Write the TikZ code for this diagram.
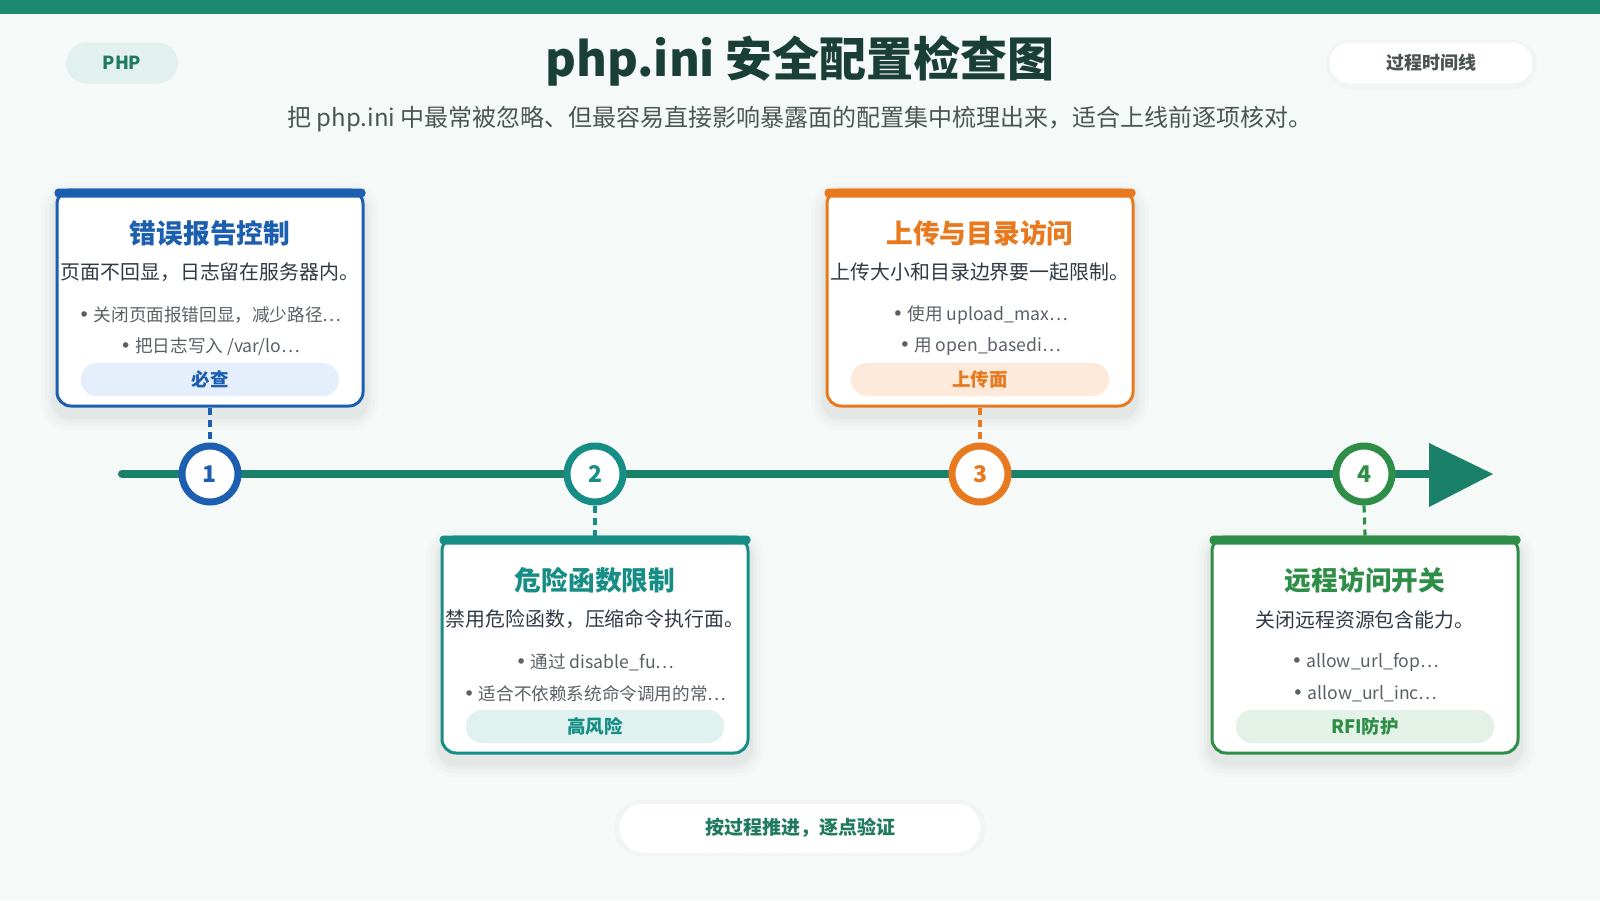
\documentclass[tikz,border=0pt]{standalone}
\usepackage{fontspec}
\setmainfont{Noto Sans CJK SC}
\newfontfamily\dejavu{DejaVu Sans}
\usetikzlibrary{calc}
\definecolor{bgc}{HTML}{F5F9F7}
\definecolor{topbarc}{HTML}{1B8A6E}
\definecolor{titlec}{HTML}{1A3F36}
\definecolor{subc}{HTML}{4B5753}
\definecolor{phpfill}{HTML}{E2F1EE}
\definecolor{phptext}{HTML}{1F7A5E}
\definecolor{linec}{HTML}{1B8068}
\definecolor{cblue}{HTML}{1C5FB0}
\definecolor{cteal}{HTML}{168E86}
\definecolor{corange}{HTML}{E8791E}
\definecolor{cgreen}{HTML}{2E8E48}
\definecolor{fblue}{HTML}{E5EFFB}
\definecolor{fteal}{HTML}{DFF2EF}
\definecolor{forange}{HTML}{FDEADB}
\definecolor{fgreen}{HTML}{E4F1E6}
\definecolor{descc}{HTML}{2F3A45}
\definecolor{bulc}{HTML}{5A6068}
\definecolor{badgec}{HTML}{4A5550}
\newcommand\fs[1]{\fontsize{#1}{#1}\selectfont}
\newcommand\bul{{\dejavu\fontsize{19}{19}\selectfont •}\ }
\tikzset{
  cardbox/.style={rectangle, rounded corners=14, minimum width=306, minimum height=216, line width=3, fill=white, inner sep=0},
  cardtitle/.style={font=\fs{26.7}\bfseries, inner sep=0},
  carddesc/.style={font=\fs{19.9}, text=descc, inner sep=0},
  cardbul/.style={font=\fs{17.6}, text=bulc, inner sep=0},
  tagpill/.style={rectangle, rounded corners=16, minimum width=258, minimum height=33, inner sep=0, font=\fs{18.5}\bfseries},
  circ/.style={circle, line width=7, minimum size=56, fill=white, inner sep=0, font=\fs{23}\bfseries},
  dashc/.style={line width=3.2, dash pattern=on 7 off 5},
  badge/.style={rectangle, rounded corners=20.5, minimum height=41, inner sep=0, font=\fs{18}\bfseries},
}
\newcommand\card[9]{%
  \foreach \s/\o in {14/0.010,10/0.015,6/0.02,3/0.025}{
    \fill[black, opacity=\o, rounded corners=14+\s]
      ($#2+(-155-\s,-110-\s+8)$) rectangle ($#2+(155+\s,110+\s+8)$);
  }
  \node[cardbox, draw=#3] (#1) at #2 {};
  \fill[#3, rounded corners=4] ($(#1.north west)+(-1,0)$) rectangle ($(#1.north east)+(1,9)$);
  \node[cardtitle, text=#3] (#1t) at ($(#1.north)+(0,45)$) {#5};
  \node[carddesc] (#1d) at ($(#1.north)+(0,84)$) {#6};
  \node[cardbul] (#1b1) at ($(#1.north)+(0,127)$) {#7};
  \node[cardbul] (#1b2) at ($(#1.north)+(0,158)$) {#8};
  \node[tagpill, fill=#4, text=#3] (#1g) at ($(#1.north)+(0,191)$) {#9};
}
\begin{document}
\begin{tikzpicture}[x=1pt, y=-1pt]
\useasboundingbox (0,0) rectangle (1600,900);
\fill[bgc] (0,0) rectangle (1600,900);
\fill[topbarc] (0,0) rectangle (1600,14);

% header
\node[badge, fill=phpfill, text=phptext, minimum width=112] (php) at (122,63) {PHP};
\node[font=\fs{47}\bfseries, text=titlec, inner sep=0] (title) at (800,61) {php.ini 安全配置检查图};
\node[font=\fs{24}, text=subc, inner sep=0] (sub) at (800,119) {把 php.ini 中最常被忽略、但最容易直接影响暴露面的配置集中梳理出来，适合上线前逐项核对。};
\fill[black, opacity=0.015, rounded corners=24] (1326,40) rectangle (1537,89);
\node[badge, fill=white, text=badgec, minimum width=203] (proc) at (1431,63) {过程时间线};

% timeline
\coordinate (ls) at (122,474);
\coordinate (le) at (1435,474);
\draw[linec, line width=8, line cap=round] (ls) -- (le);
\fill[linec] (1429,443) -- (1493,474) -- (1429,507) -- cycle;

% cards
\card{c1}{(210,298)}{cblue}{fblue}{错误报告控制}{页面不回显，日志留在服务器内。}{\bul 关闭页面报错回显，减少路径…}{\bul 把日志写入 /var/lo…}{必查}
\card{c2}{(595,645)}{cteal}{fteal}{危险函数限制}{禁用危险函数，压缩命令执行面。}{\bul 通过 disable\_fu…}{\bul 适合不依赖系统命令调用的常…}{高风险}
\card{c3}{(980,298)}{corange}{forange}{上传与目录访问}{上传大小和目录边界要一起限制。}{\bul 使用 upload\_max…}{\bul 用 open\_basedi…}{上传面}
\card{c4}{(1365,645)}{cgreen}{fgreen}{远程访问开关}{关闭远程资源包含能力。}{\bul allow\_url\_fop…}{\bul allow\_url\_inc…}{RFI防护}

% circles
\node[circ, draw=cblue, text=cblue] (n1) at (210,474) {1};
\node[circ, draw=cteal, text=cteal] (n2) at (595,474) {2};
\node[circ, draw=corange, text=corange] (n3) at (980,474) {3};
\node[circ, draw=cgreen, text=cgreen] (n4) at (1364,474) {4};

% connectors
\draw[dashc, cblue] (c1.south) -- (n1.north);
\draw[dashc, cteal] (n2.south) -- (c2.north);
\draw[dashc, corange] (c3.south) -- (n3.north);
\draw[dashc, cgreen] (n4.south) -- (c4.north);

% footer
\fill[black, opacity=0.015, rounded corners=27] (614,800) rectangle (986,856);
\node[badge, rounded corners=24.5, fill=white, text=phptext, minimum width=361, minimum height=49, font=\fs{19}\bfseries] (foot) at (800,828) {按过程推进，逐点验证};
\end{tikzpicture}
\end{document}
